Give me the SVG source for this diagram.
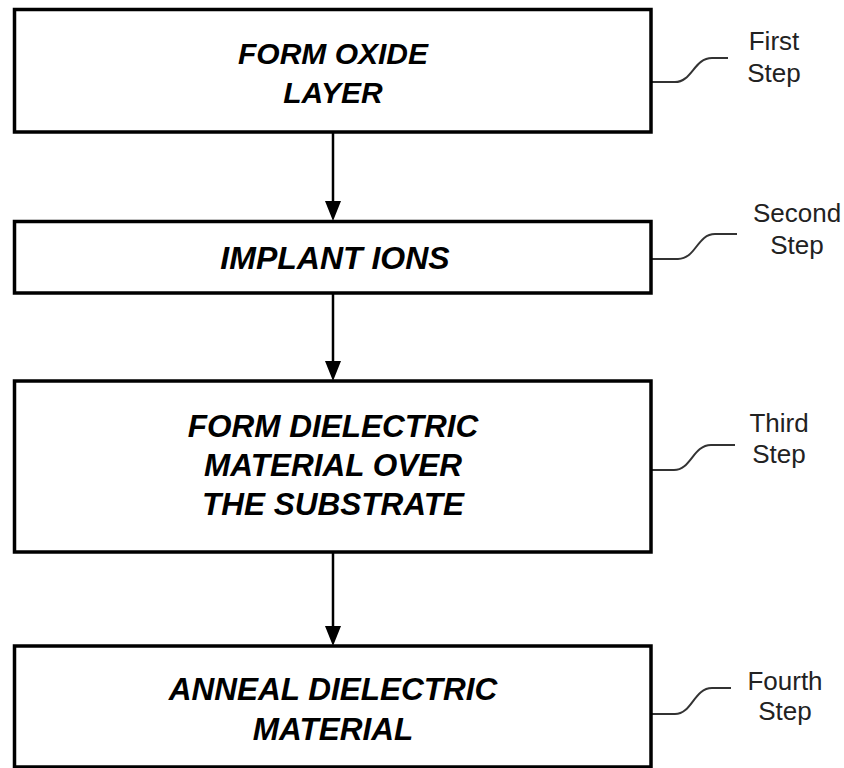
<svg xmlns="http://www.w3.org/2000/svg" width="844" height="768" viewBox="0 0 844 768">
<defs>
<style>
.box{fill:#fff;stroke:#000;stroke-width:3.5}
.bt{font-family:"Liberation Sans",Arial,sans-serif;font-weight:bold;font-style:italic;font-size:30px;fill:#000;text-anchor:middle}
.bt2{font-size:31.5px}
.lt{font-family:"Liberation Sans",Arial,sans-serif;font-size:26px;fill:#222;text-anchor:middle}
.flow{stroke:#000;stroke-width:2.5;fill:none}
.lead{stroke:#333;stroke-width:2;fill:none}
</style>
</defs>
<rect width="844" height="768" fill="#fff"/>
<g id="connectors">
<line class="flow" x1="333" y1="132" x2="333" y2="201"/>
<path d="M325,201 L341,201 L333,221 Z" fill="#000"/>
<line class="flow" x1="333" y1="293" x2="333" y2="361"/>
<path d="M325,361 L341,361 L333,381 Z" fill="#000"/>
<line class="flow" x1="333" y1="552" x2="333" y2="626"/>
<path d="M325,626 L341,626 L333,646 Z" fill="#000"/>
<path class="lead" d="M652,82 H675 C692,82 694,58 712,58 H728"/>
<path class="lead" d="M652,259 H678 C696,259 697,234 715,234 H737"/>
<path class="lead" d="M652,470 H674 C691,470 693,445 711,445 H735"/>
<path class="lead" d="M652,714 H675 C692,714 694,688 712,688 H731"/>
</g>
<g id="step1">
<rect class="box" x="14.5" y="9.5" width="636.5" height="122.5"/>
<text class="bt" x="333" y="64">FORM OXIDE</text>
<text class="bt" x="333" y="103">LAYER</text>
</g>
<g id="step2">
<rect class="box" x="14.5" y="221.5" width="636.5" height="71.5"/>
<text class="bt" x="335" y="269" style="font-size:32px">IMPLANT IONS</text>
</g>
<g id="step3">
<rect class="box" x="14.5" y="381" width="636.5" height="171"/>
<text class="bt bt2" x="333" y="437">FORM DIELECTRIC</text>
<text class="bt bt2" x="333" y="476">MATERIAL OVER</text>
<text class="bt bt2" x="333" y="515">THE SUBSTRATE</text>
</g>
<g id="step4">
<rect class="box" x="14.5" y="646" width="636.5" height="121"/>
<text class="bt bt2" x="333" y="700">ANNEAL DIELECTRIC</text>
<text class="bt bt2" x="333" y="740">MATERIAL</text>
</g>
<g id="label1"><text class="lt" x="774" y="50">First</text><text class="lt" x="774" y="82">Step</text></g>
<g id="label2"><text class="lt" x="797" y="222">Second</text><text class="lt" x="797" y="254">Step</text></g>
<g id="label3"><text class="lt" x="779" y="432">Third</text><text class="lt" x="779" y="463">Step</text></g>
<g id="label4"><text class="lt" x="785" y="690">Fourth</text><text class="lt" x="785" y="720">Step</text></g>
</svg>
